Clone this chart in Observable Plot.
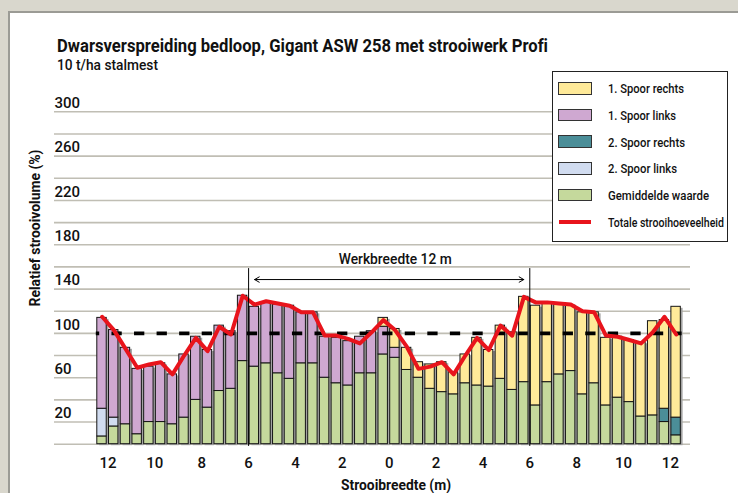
<!DOCTYPE html>
<html><head><meta charset="utf-8">
<script src="https://cdn.jsdelivr.net/npm/d3@7"></script>
<script src="https://cdn.jsdelivr.net/npm/@observablehq/plot@0.6"></script>
<style>
html,body{margin:0;padding:0}
body{width:738px;height:493px;overflow:hidden;background:#d9d7cd;position:relative;color:#111;
 font-family:Roboto,"Liberation Sans",Arial,sans-serif;font-variant-ligatures:none}
#panel{position:absolute;left:8px;top:11px;width:730px;height:482px;background:#fff;border-left:2px solid #9b9b95;border-top:2px solid #9b9b95;box-sizing:border-box}
#chart{position:absolute;left:0;top:0}
.lbl{position:absolute;white-space:nowrap;line-height:1;font-variant-ligatures:none}
.sw{position:absolute;box-sizing:border-box;border:1px solid #333}
</style></head>
<body>
<div id="panel"></div>
<div id="chart"></div>
<script>
// ---------- data ----------
const positions = [-12.25,-11.75,-11.25,-10.75,-10.25,-9.75,-9.25,-8.75,-8.25,-7.75,-7.25,-6.75,-6.25,-5.75,-5.25,-4.75,-4.25,-3.75,-3.25,-2.75,-2.25,-1.75,-1.25,-0.75,-0.25,0.25,0.75,1.25,1.75,2.25,2.75,3.25,3.75,4.25,4.75,5.25,5.75,6.25,6.75,7.25,7.75,8.25,8.75,9.25,9.75,10.25,10.75,11.25,11.75,12.25];
const gemiddelde   = [7,16,18,9,20,20,18,24,40,33,48,50,75,70,73,64,59,73,73,60,55,53,64,64,81,78,67,60,50,47,45,55,53,52,59,49,56,35,56,63,66,45,55,35,42,38,25,26,20,8];
const spoor2Links  = [25,8,0,0,0,0,0,0,0,0,0,0,0,0,0,0,0,0,0,0,0,0,0,0,0,0,0,0,0,0,0,0,0,0,0,0,0,0,0,0,0,0,0,0,0,0,0,0,0,0];
const spoor1Links  = [82,79,69,59,50,53,45,57,57,52,59,52,59,54,55,62,66,46,46,37,41,40,33,38,25,9,0,0,0,0,0,0,0,0,0,0,0,0,0,0,0,0,0,0,0,0,0,0,0,0];
const spoor2Rechts = [0,0,0,0,0,0,0,0,0,0,0,0,0,0,0,0,0,0,0,0,0,0,0,0,0,0,0,0,0,0,0,0,0,0,0,0,0,0,0,0,0,0,0,0,0,0,0,0,12,16];
const spoor1Rechts = [0,0,0,0,0,0,0,0,0,0,0,0,0,0,0,0,0,0,0,0,0,0,0,0,8,17,20,14,22,27,20,26,43,33,48,52,77,90,71,63,59,74,64,61,55,56,67,85,80,100];
const totaal       = [115,103,86,69,72,74,63,80,96,84,106,99,134,126,129,127,125,119,119,98,98,95,91,101,112,103,88,68,70,74,63,80,96,85,107,98,133,128,128,127,126,120,119,98,97,94,91,101,115,99];

const seriesNames  = ["Gemiddelde waarde","2. Spoor links","1. Spoor links","2. Spoor rechts","1. Spoor rechts"];
const seriesValues = [gemiddelde, spoor2Links, spoor1Links, spoor2Rechts, spoor1Rechts];
const seriesColors = ["#c5d99c","#d1dcf0","#cfa8d1","#4b8e98","#ffea99"];
const legendOrder  = ["1. Spoor rechts","1. Spoor links","2. Spoor rechts","2. Spoor links","Gemiddelde waarde"];
const lineName     = "Totale strooihoeveelheid";

const yGrid      = [0,20,40,60,80,100,120,140,160,180,200,220,240,260,280,300];
const yTickLabels= [20,60,100,140,180,220,260,300];
const xTicks     = [-12,-10,-8,-6,-4,-2,0,2,4,6,8,10,12];
const referentie = 100;
const werkbreedte = 12;

const title    = "Dwarsverspreiding bedloop, Gigant ASW 258 met strooiwerk Profi";
const subtitle = "10 t/ha stalmest";
const yTitle   = "Relatief strooivolume (%)";
const xTitle   = "Strooibreedte (m)";

// ---------- derived tables ----------
const stacked = [];
const totals = [];
positions.forEach((p, i) => {
  let cum = 0;
  seriesNames.forEach((s, k) => {
    const v = seriesValues[k][i];
    if (v > 0) stacked.push({pos: p, series: s, y1: cum, y2: cum + v});
    cum += v;
  });
  totals.push({pos: p, total: cum});
});
const lineData = positions.map((p, i) => ({pos: p, v: totaal[i]}));
const half = 0.25;

const W = 738, H = 493;
const mL = 95.8, mR = 56.4, mT = 111.3, mB = 49.3;
const FONT = 'Roboto,"Liberation Sans",sans-serif';

const plot = Plot.plot({
  width: W, height: H,
  marginLeft: mL, marginRight: mR, marginTop: mT, marginBottom: mB,
  style: {background: "transparent", overflow: "visible"},
  x: {domain: [-12.5, 12.5], axis: null},
  y: {domain: [0, 300], axis: null},
  color: {domain: seriesNames, range: seriesColors},
  marks: [
    Plot.ruleY(yGrid, {stroke: "#c0beb4", strokeWidth: 1.6, insetLeft: -41.8, insetRight: -8.4}),
    Plot.rect(totals, {x1: d => d.pos - half, x2: d => d.pos + half, y1: 0, y2: "total",
      insetLeft: 1, insetRight: 1.3, dx: 2.3, dy: 1.5, fill: "#a3a3a3"}),
    Plot.rect(stacked, {x1: d => d.pos - half, x2: d => d.pos + half, y1: "y1", y2: "y2",
      fill: "series", stroke: "#151515", strokeWidth: 1, insetLeft: 1, insetRight: 1.3}),
    Plot.ruleY([referentie], {stroke: "#000", strokeWidth: 3.6, strokeDasharray: "10.3,12.26", strokeDashoffset: 6.9}),
    Plot.line(lineData, {x: "pos", y: "v", stroke: "#e8141c", strokeWidth: 4, strokeLinejoin: "round"}),
    Plot.ruleX([-werkbreedte / 2, werkbreedte / 2], {y1: -2, y2: 158.5, stroke: "#000", strokeWidth: 1}),
    Plot.arrow([{a: 0, b: -werkbreedte / 2}, {a: 0, b: werkbreedte / 2}], {x1: "a", x2: "b", y1: 148.6, y2: 148.6,
      stroke: "#000", strokeWidth: 1, headLength: 8, insetEnd: 6}),
    Plot.text([`Werkbreedte ${werkbreedte} m`], {x: 0, y: 166.7, text: d => d, dx: 6, fontSize: 14,
      fontWeight: 500, fill: "#111", fontFamily: FONT}),
    Plot.text(yTickLabels, {y: d => d, text: d => String(d), frameAnchor: "left", textAnchor: "start",
      dx: -41.8, dy: -8.5, fontSize: 15, fontWeight: 500, fill: "#111", fontFamily: FONT}),
    Plot.text(xTicks, {x: d => d, text: d => String(Math.abs(d)), frameAnchor: "bottom", dy: 24,
      fontSize: 15, fontWeight: 500, fill: "#111", fontFamily: FONT})
  ]
});
document.getElementById("chart").appendChild(plot);

// fit text widths
d3.select(plot).selectAll("text").each(function() {
  if (this.textContent.startsWith("Werkbreedte")) {
    d3.select(this).attr("textLength", 113).attr("lengthAdjust", "spacingAndGlyphs");
  }
});

// ---------- HTML texts ----------
function addLabel(text, opts) {
  const el = document.createElement("div");
  el.className = "lbl";
  el.textContent = text;
  el.style.fontSize = opts.size + "px";
  el.style.fontWeight = opts.weight || 500;
  el.style.left = opts.x + "px";
  el.style.top = opts.y + "px";
  document.body.appendChild(el);
  const w = el.getBoundingClientRect().width;
  const s = opts.width ? opts.width / w : 1;
  if (opts.mode === "left") {
    el.style.transformOrigin = "left center";
    el.style.transform = `translateY(-50%) scaleX(${s})`;
  } else if (opts.mode === "center") {
    el.style.transformOrigin = "center center";
    el.style.transform = `translate(-50%,-50%) scaleX(${s})`;
  } else if (opts.mode === "vertical") {
    el.style.transformOrigin = "center center";
    el.style.transform = `translate(-50%,-50%) rotate(-90deg) scaleX(${s})`;
  }
  return el;
}
addLabel(title,    {x: 57, y: 46, size: 18, weight: 700, width: 491, mode: "left"});
addLabel(subtitle, {x: 57, y: 65, size: 14, weight: 500, width: 101, mode: "left"});
addLabel(xTitle,   {x: 396, y: 485, size: 15, weight: 700, width: 110, mode: "center"});
addLabel(yTitle,   {x: 35, y: 228, size: 15, weight: 700, width: 157, mode: "vertical"});

// ---------- legend ----------
const box = document.createElement("div");
Object.assign(box.style, {position: "absolute", left: "551.7px", top: "70.7px", width: "176.6px", height: "171px",
  border: "1px solid #222", background: "#fff", boxSizing: "border-box"});
document.body.appendChild(box);
const itemY = [88.3, 115, 141.7, 168.3, 195, 221.7];
const legendWidths = [76, 68, 77, 69, 101, 116];
legendOrder.forEach((name, i) => {
  const sw = document.createElement("div");
  sw.className = "sw";
  Object.assign(sw.style, {left: "558.3px", top: (itemY[i] - 6.4) + "px", width: "33.4px", height: "12.7px",
    background: seriesColors[seriesNames.indexOf(name)]});
  document.body.appendChild(sw);
  addLabel(name, {x: 607.7, y: itemY[i], size: 13, weight: 500, width: legendWidths[i], mode: "left"});
});
const ln = document.createElement("div");
Object.assign(ln.style, {position: "absolute", left: "559px", top: (itemY[5] - 2) + "px", width: "32px", height: "4px", background: "#e8141c"});
document.body.appendChild(ln);
addLabel(lineName, {x: 607.7, y: itemY[5], size: 13, weight: 500, width: legendWidths[5], mode: "left"});
</script>
</body></html>
